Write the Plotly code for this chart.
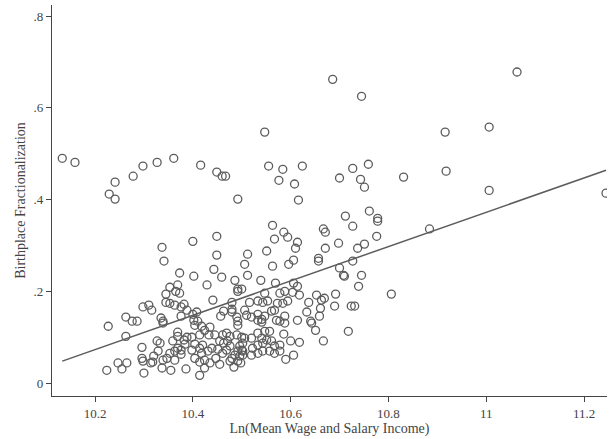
import numpy as np
import plotly.graph_objects as go

# Ln(Mean Wage and Salary Income)
x_vals = [
    10.133, 10.159, 10.229, 10.241, 10.241, 10.278, 10.298, 10.327, 10.361, 10.416, 10.449, 10.460, 10.467, 10.492,
    10.686, 10.745, 10.547, 10.916, 10.555, 10.584, 10.624, 10.576, 10.608, 10.616, 10.700, 10.727, 10.743, 10.759,
    10.751, 10.831, 10.918, 11.063, 11.006, 11.006, 11.245,
    10.337, 10.341, 10.400, 10.449, 10.449, 10.373, 10.402, 10.443, 10.459, 10.429, 10.369, 10.353,
    10.712, 10.727, 10.563, 10.586, 10.594, 10.567, 10.667, 10.671, 10.614, 10.610, 10.698, 10.671, 10.551, 10.512,
    10.506, 10.563, 10.596, 10.606, 10.657, 10.657, 10.700, 10.708, 10.710, 10.727, 10.512, 10.486, 10.539, 10.569,
    10.606, 10.614, 10.492, 10.500,
    10.761, 10.778, 10.778, 10.884, 10.776, 10.751, 10.737, 10.745, 10.739, 10.806, 10.731,
    10.227, 10.263, 10.276, 10.286, 10.263, 10.224, 10.247, 10.255, 10.265, 10.300, 10.296, 10.296, 10.298, 10.298,
    10.310, 10.316, 10.314, 10.318, 10.320, 10.327, 10.333, 10.329, 10.335, 10.339, 10.339, 10.345, 10.345, 10.365,
    10.373, 10.353, 10.363, 10.376, 10.382, 10.388, 10.376, 10.400, 10.408, 10.402, 10.410, 10.404, 10.418, 10.424,
    10.435, 10.441, 10.457, 10.463, 10.414, 10.433, 10.445, 10.455, 10.369, 10.369, 10.382, 10.388, 10.359, 10.398,
    10.384, 10.369, 10.363, 10.376, 10.376, 10.353, 10.347, 10.339, 10.363, 10.404, 10.398, 10.414, 10.420, 10.418,
    10.431, 10.439, 10.451, 10.404, 10.414, 10.424, 10.435, 10.447, 10.455, 10.424, 10.414, 10.386, 10.355, 10.461,
    10.461, 10.463, 10.337,
    10.492, 10.547, 10.578, 10.588, 10.604, 10.618, 10.653, 10.663, 10.669, 10.692, 10.690, 10.724, 10.637, 10.661,
    10.633, 10.659, 10.614, 10.641, 10.643, 10.651, 10.667, 10.718, 10.618, 10.600, 10.606, 10.590, 10.586, 10.588,
    10.594, 10.584, 10.573, 10.567, 10.561, 10.571, 10.578, 10.588, 10.553, 10.543, 10.533, 10.516, 10.480, 10.480,
    10.480, 10.506, 10.510, 10.520, 10.533, 10.533, 10.541, 10.541, 10.547, 10.490, 10.492, 10.492, 10.469, 10.476,
    10.490, 10.500, 10.520, 10.533, 10.547, 10.557, 10.541, 10.551, 10.561, 10.543, 10.533, 10.567, 10.578, 10.522,
    10.543, 10.557, 10.533, 10.520, 10.506, 10.502, 10.496, 10.500, 10.502, 10.492, 10.486, 10.496, 10.502, 10.476,
    10.471, 10.469, 10.480, 10.476, 10.484, 10.492, 10.498, 10.567, 10.578,
]

# Birthplace Fractionalization
y_vals = [
    0.490, 0.481, 0.412, 0.438, 0.401, 0.451, 0.473, 0.481, 0.490, 0.475, 0.460, 0.451, 0.451, 0.401,
    0.662, 0.625, 0.547, 0.547, 0.473, 0.466, 0.473, 0.442, 0.434, 0.399, 0.447, 0.468, 0.444, 0.477,
    0.427, 0.449, 0.462, 0.678, 0.558, 0.420, 0.414,
    0.296, 0.266, 0.309, 0.320, 0.279, 0.240, 0.233, 0.248, 0.231, 0.214, 0.214, 0.209,
    0.364, 0.342, 0.344, 0.329, 0.318, 0.314, 0.336, 0.329, 0.307, 0.294, 0.305, 0.294, 0.288, 0.281,
    0.259, 0.255, 0.259, 0.268, 0.272, 0.266, 0.251, 0.235, 0.233, 0.266, 0.235, 0.224, 0.224, 0.218,
    0.218, 0.211, 0.205, 0.205,
    0.375, 0.359, 0.353, 0.336, 0.320, 0.303, 0.294, 0.235, 0.211, 0.194, 0.168,
    0.124, 0.144, 0.135, 0.135, 0.102, 0.028, 0.044, 0.031, 0.044, 0.022, 0.078, 0.054, 0.048, 0.166,
    0.170, 0.159, 0.044, 0.046, 0.059, 0.092, 0.087, 0.070, 0.142, 0.135, 0.131, 0.194, 0.176, 0.200,
    0.196, 0.174, 0.170, 0.166, 0.172, 0.159, 0.146, 0.150, 0.155, 0.137, 0.135, 0.126, 0.124, 0.115,
    0.122, 0.181, 0.146, 0.157, 0.105, 0.105, 0.105, 0.092, 0.111, 0.102, 0.094, 0.100, 0.092, 0.100,
    0.085, 0.076, 0.070, 0.072, 0.063, 0.065, 0.054, 0.050, 0.050, 0.085, 0.072, 0.076, 0.083, 0.065,
    0.070, 0.076, 0.074, 0.054, 0.046, 0.050, 0.044, 0.054, 0.041, 0.033, 0.017, 0.031, 0.028, 0.065,
    0.105, 0.087, 0.033,
    0.200, 0.196, 0.196, 0.200, 0.198, 0.192, 0.192, 0.181, 0.185, 0.194, 0.168, 0.168, 0.176, 0.163,
    0.155, 0.146, 0.137, 0.135, 0.131, 0.115, 0.092, 0.113, 0.089, 0.092, 0.061, 0.052, 0.107, 0.146,
    0.179, 0.174, 0.174, 0.159, 0.157, 0.137, 0.135, 0.131, 0.179, 0.176, 0.179, 0.176, 0.176, 0.161,
    0.155, 0.159, 0.148, 0.144, 0.150, 0.137, 0.139, 0.133, 0.146, 0.144, 0.135, 0.126, 0.109, 0.102,
    0.105, 0.100, 0.098, 0.109, 0.113, 0.113, 0.098, 0.094, 0.092, 0.087, 0.083, 0.081, 0.083, 0.076,
    0.070, 0.070, 0.065, 0.061, 0.098, 0.087, 0.081, 0.072, 0.070, 0.070, 0.061, 0.059, 0.061, 0.081,
    0.092, 0.072, 0.054, 0.048, 0.035, 0.048, 0.044, 0.065, 0.070,
]

# Fitted line values at the smallest and largest x
fit_y_ends = [0.048, 0.464]

x_tickvals = [10.2, 10.4, 10.6, 10.8, 11.0, 11.2]
x_ticktext = ["10.2", "10.4", "10.6", "10.8", "11", "11.2"]
y_tickvals = [0, 0.2, 0.4, 0.6, 0.8]
y_ticktext = ["0", ".2", ".4", ".6", ".8"]

fit_x = [min(x_vals), max(x_vals)]

mark_color = "#5c5c5c"
axis_color = "#444444"
font_family = "Liberation Serif, Times New Roman, serif"

fig = go.Figure()
fig.add_trace(go.Scatter(
    x=x_vals, y=y_vals, mode="markers",
    marker=dict(symbol="circle-open", size=8, color=mark_color, line=dict(width=1.3, color=mark_color)),
    showlegend=False, hoverinfo="x+y",
))
fig.add_trace(go.Scatter(
    x=fit_x, y=fit_y_ends, mode="lines",
    line=dict(color=mark_color, width=1.5),
    showlegend=False,
))

axis_common = dict(
    showgrid=False, zeroline=False, showline=True, linecolor=axis_color, linewidth=1.2,
    ticks="outside", ticklen=5, tickwidth=1, tickcolor=axis_color, automargin=False,
    tickfont=dict(family=font_family, size=13, color=axis_color),
)

fig.update_layout(
    width=609, height=439,
    margin=dict(l=52, r=2, t=5, b=43),
    paper_bgcolor="white", plot_bgcolor="white",
    font=dict(family=font_family, color=axis_color),
    xaxis=dict(
        range=[10.112, 11.247], tickvals=x_tickvals, ticktext=x_ticktext,
        title=dict(text="Ln(Mean Wage and Salary Income)", font=dict(family=font_family, size=14, color=axis_color), standoff=3),
        **axis_common,
    ),
    yaxis=dict(
        range=[-0.028, 0.824], tickvals=y_tickvals, ticktext=y_ticktext,
        title=dict(text="Birthplace Fractionalization", font=dict(family=font_family, size=14, color=axis_color), standoff=4),
        **axis_common,
    ),
)

fig.write_html("out.html", config={"displayModeBar": False},
               post_script="document.body.style.margin='0';")
